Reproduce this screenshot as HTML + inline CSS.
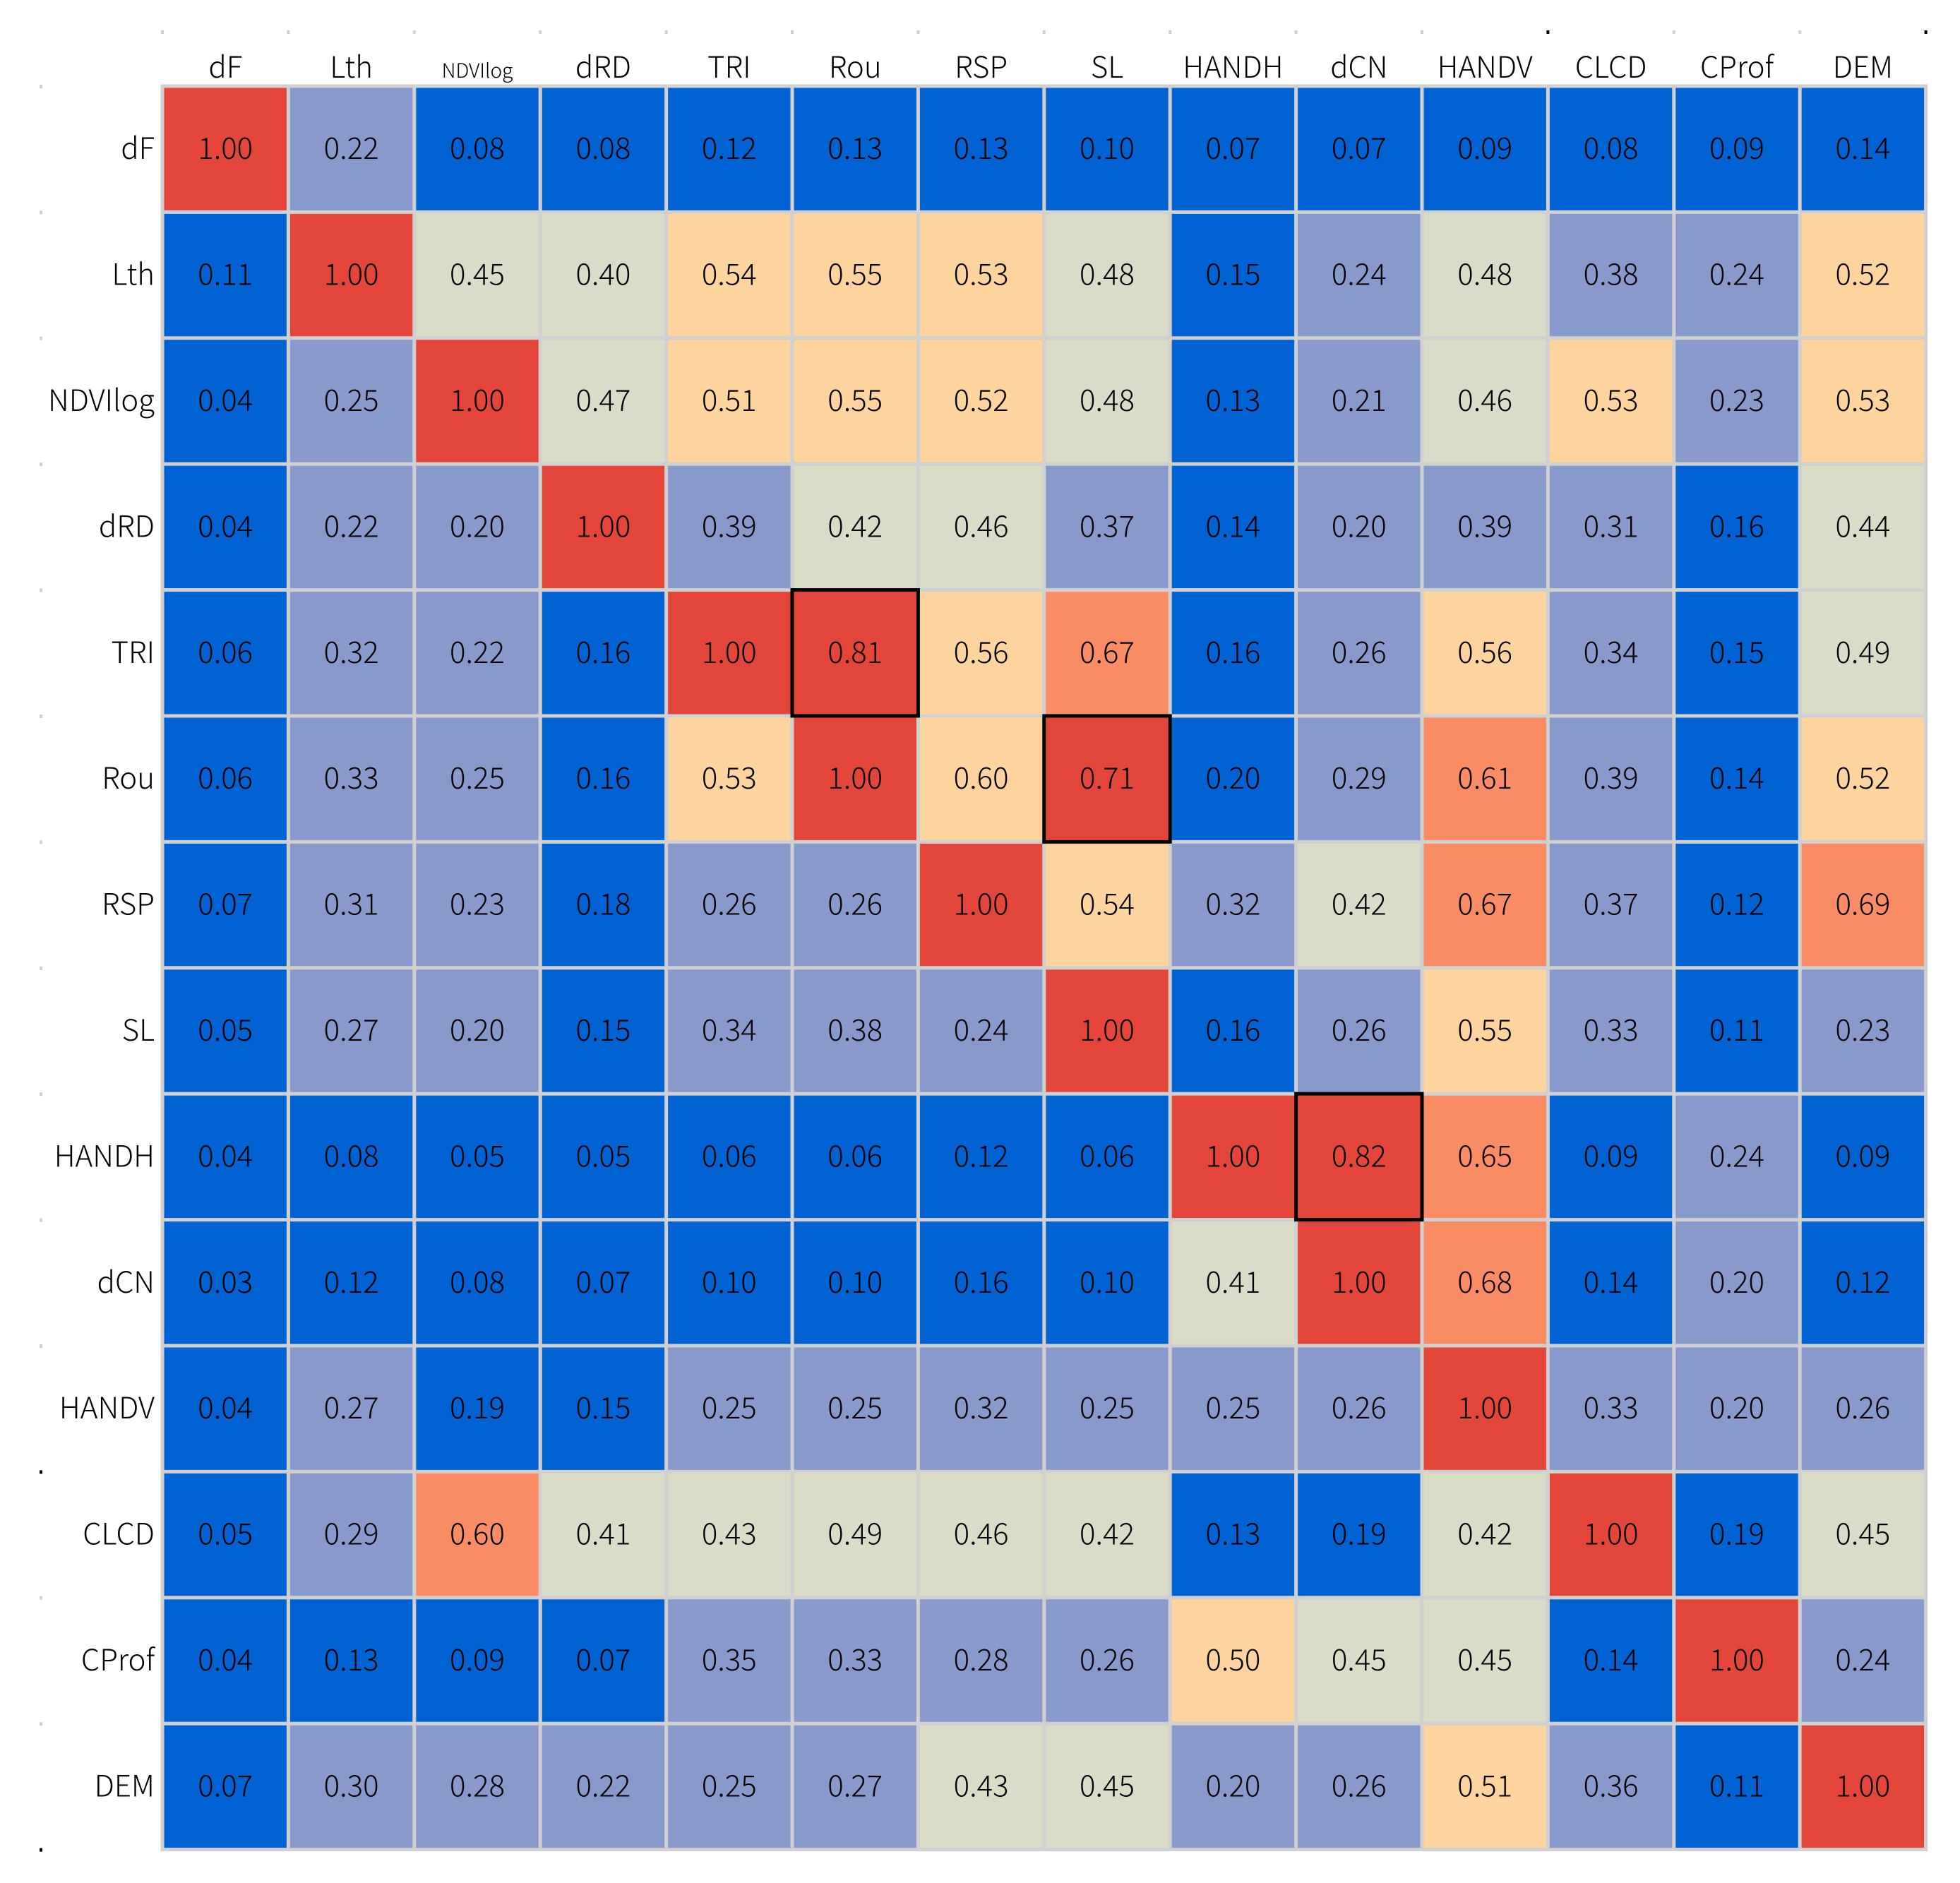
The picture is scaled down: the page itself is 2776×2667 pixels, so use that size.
<!DOCTYPE html>
<html><head><meta charset="utf-8"><style>
html,body{margin:0;padding:0;background:#fff;}
svg text{font-family:"Noto Sans CJK SC","Liberation Sans",sans-serif;font-weight:300;fill:#000;}
</style></head><body>
<svg id="chart" width="2776" height="2662" viewBox="0 0 2776 2662" xmlns="http://www.w3.org/2000/svg"></svg>
<script>
const labels = ["dF","Lth","NDVIlog","dRD","TRI","Rou","RSP","SL","HANDH","dCN","HANDV","CLCD","CProf","DEM"];
const row0 = [1.00,0.22,0.08,0.08,0.12,0.13,0.13,0.10,0.07,0.07,0.09,0.08,0.09,0.14];
const row1 = [0.11,1.00,0.45,0.40,0.54,0.55,0.53,0.48,0.15,0.24,0.48,0.38,0.24,0.52];
const row2 = [0.04,0.25,1.00,0.47,0.51,0.55,0.52,0.48,0.13,0.21,0.46,0.53,0.23,0.53];
const row3 = [0.04,0.22,0.20,1.00,0.39,0.42,0.46,0.37,0.14,0.20,0.39,0.31,0.16,0.44];
const row4 = [0.06,0.32,0.22,0.16,1.00,0.81,0.56,0.67,0.16,0.26,0.56,0.34,0.15,0.49];
const row5 = [0.06,0.33,0.25,0.16,0.53,1.00,0.598,0.71,0.198,0.29,0.61,0.39,0.14,0.52];
const row6 = [0.07,0.31,0.23,0.18,0.26,0.26,1.00,0.54,0.32,0.42,0.67,0.37,0.12,0.69];
const row7 = [0.05,0.27,0.20,0.15,0.34,0.38,0.24,1.00,0.16,0.26,0.55,0.33,0.11,0.23];
const row8 = [0.04,0.08,0.05,0.05,0.06,0.06,0.12,0.06,1.00,0.82,0.65,0.09,0.24,0.09];
const row9 = [0.03,0.12,0.08,0.07,0.10,0.10,0.16,0.10,0.41,1.00,0.68,0.14,0.20,0.12];
const row10 = [0.04,0.27,0.19,0.15,0.25,0.25,0.32,0.25,0.25,0.26,1.00,0.33,0.20,0.26];
const row11 = [0.05,0.29,0.603,0.41,0.43,0.49,0.46,0.42,0.13,0.19,0.42,1.00,0.19,0.45];
const row12 = [0.04,0.13,0.09,0.07,0.35,0.33,0.28,0.26,0.50,0.45,0.45,0.14,1.00,0.24];
const row13 = [0.07,0.30,0.28,0.22,0.25,0.27,0.43,0.45,0.20,0.26,0.51,0.36,0.11,1.00];
const highlightRows = [4,5,8];
const highlightCols = [5,7,9];

const matrix = [row0,row1,row2,row3,row4,row5,row6,row7,row8,row9,row10,row11,row12,row13];
const NS = "http://www.w3.org/2000/svg";
const svg = document.getElementById('chart');
const X0 = 230, Y0 = 122, CELL = 178.4;
const n = labels.length;
const xPos = i => X0 + i*CELL;
const yPos = i => Y0 + i*CELL;
function color(v){
  if (v >= 0.7) return "#e3453a";
  if (v >= 0.6) return "#fa8c65";
  if (v >= 0.5) return "#fdd49e";
  if (v >= 0.4) return "#dadcc8";
  if (v >= 0.2) return "#8899cc";
  return "#0062d3";
}
function mk(tag, attrs){ const e = document.createElementNS(NS, tag); for (const k in attrs) e.setAttribute(k, attrs[k]); return e; }

const bg = mk('rect',{x:X0-2.5,y:Y0-2.5,width:n*CELL+5,height:n*CELL+5,fill:'#d0d0d0'});


svg.appendChild(bg);

for (let r=0;r<n;r++){
  for (let c=0;c<n;c++){
    const v = matrix[r][c];
    const rect = mk('rect',{x:xPos(c)+2.5,y:yPos(r)+2.5,width:CELL-5,height:CELL-5,fill:color(v)});
    
    
    svg.appendChild(rect);
    const t = mk('text',{x:xPos(c)+CELL/2,y:yPos(r)+CELL/2+14,'text-anchor':'middle','font-size':42});
    t.textContent = v.toFixed(2);
    
    
    svg.appendChild(t);
  }
}
for (let k=0;k<highlightRows.length;k++){
  const r = highlightRows[k], c = highlightCols[k];
  const h = mk('rect',{x:xPos(c),y:yPos(r),width:CELL,height:CELL,fill:'none',stroke:'#000','stroke-width':5});
  
  
  svg.appendChild(h);
}
for (let i=0;i<n;i++){
  const ct = mk('text',{x:xPos(i)+CELL/2,y:110,'text-anchor':'middle','font-size':labels[i]==='NDVIlog'?28:42});
  ct.textContent = labels[i];
  
  
  svg.appendChild(ct);
  const rt = mk('text',{x:219,y:yPos(i)+CELL/2+14,'text-anchor':'end','font-size':42});
  rt.textContent = labels[i];
  
  
  svg.appendChild(rt);
}
for (let i=0;i<=n;i++){
  const tx = mk('rect',{x:xPos(i)-2,y:43,width:4,height:5,fill:(i===11||i===14)?'#000':'#d0d0d0'});
  
  
  svg.appendChild(tx);
  const ty = mk('rect',{x:56,y:yPos(i)-2,width:4,height:5,fill:(i===11||i===14)?'#000':'#d0d0d0'});
  
  
  svg.appendChild(ty);
}
</script>
</body></html>
